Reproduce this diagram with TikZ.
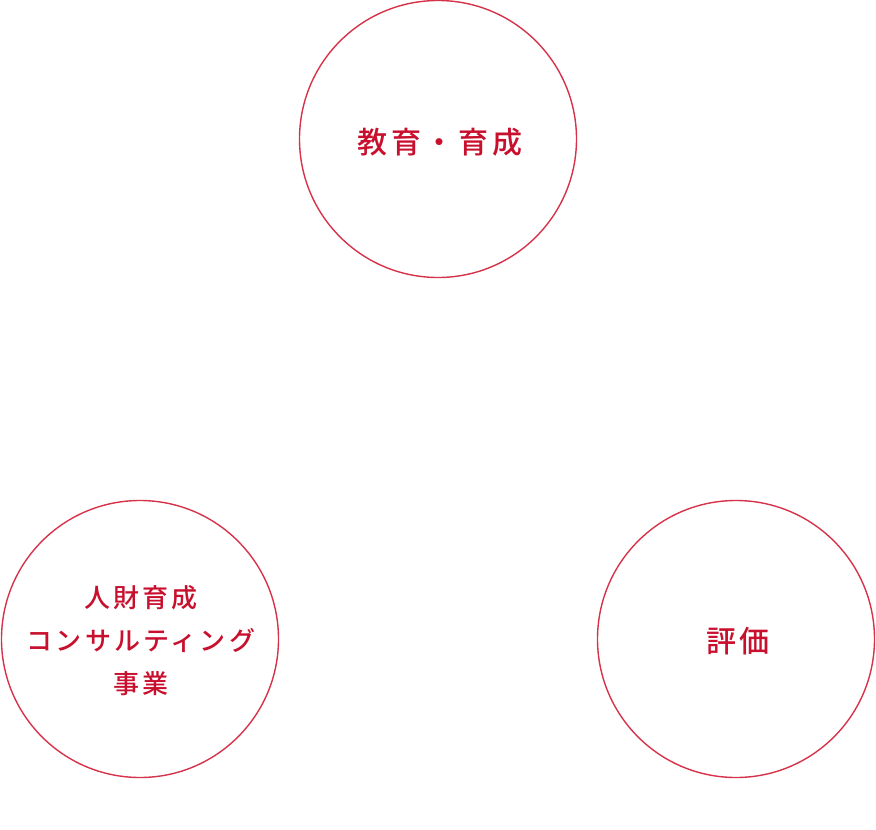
\documentclass[tikz,border=0pt]{standalone}
\usepackage{fontspec}
\newfontfamily\cjk[LetterSpace=12]{Noto Sans CJK JP Medium}
\definecolor{myred}{RGB}{200,16,46}
\definecolor{ringred}{RGB}{214,51,74}

\begin{document}
\begin{tikzpicture}[x=1pt, y=1pt,
		ring/.style={circle, draw=ringred, line width=1.4pt, minimum size=277pt, inner sep=0pt},
		lbl/.style={text=myred, align=center, font=\cjk\fontsize{26}{43}\selectfont},
		biglbl/.style={lbl, font=\cjk\fontsize{30}{43}\selectfont}]
			% Fix the page to the size of the reference
			\useasboundingbox (0,0) rectangle (876,-830);
			
			% Draw the three circles
			\node[ring] (edu) at (438,-139) {};
			\node[ring] (hr) at (140,-639) {};
			\node[ring] (eval) at (736,-639) {};
			
			% Label the circles
			\node[biglbl] (edutext) at ([xshift=2pt,yshift=-3pt]edu) {教育・育成};
			\node[lbl] (hrtext) at ([xshift=1pt,yshift=-2pt]hr) {人財育成\\コンサルティング\\事業};
			\node[biglbl] (evaltext) at ([xshift=2pt,yshift=-2pt]eval) {評価};
		\end{tikzpicture}
\end{document}
